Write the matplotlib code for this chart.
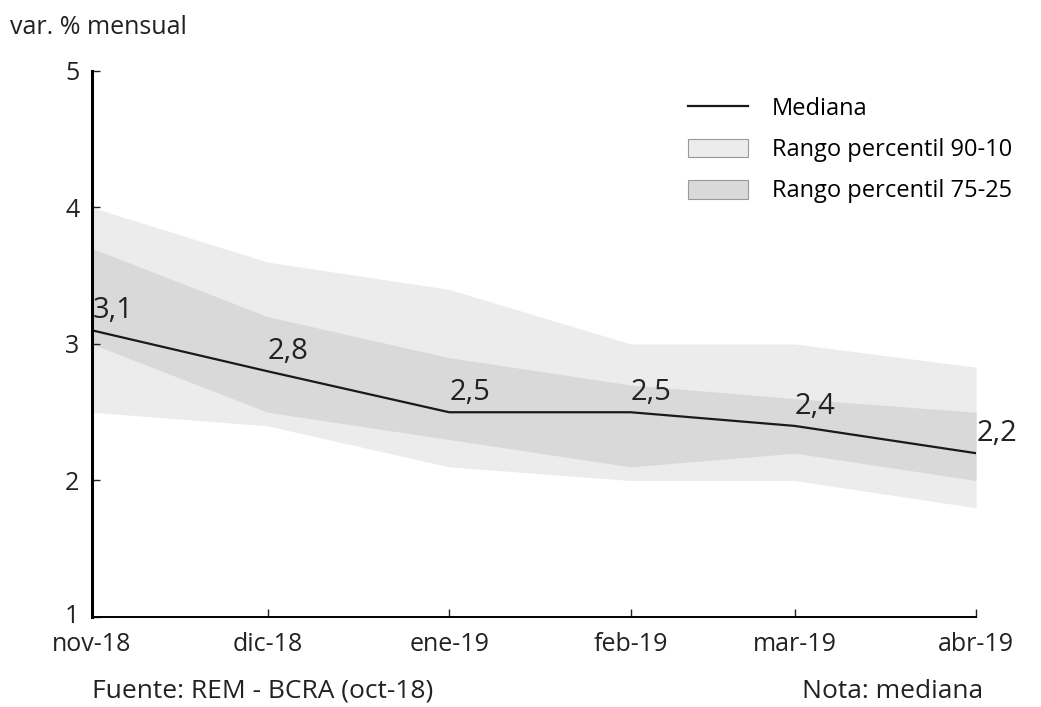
import matplotlib
matplotlib.use("Agg")
import matplotlib.pyplot as plt
import matplotlib.dates as mdates
import matplotlib.transforms as mtransforms
from matplotlib.patches import Patch
from matplotlib.lines import Line2D
from datetime import datetime

plt.rcParams['font.family'] = ['Open Sans', 'DejaVu Sans']

months = ["2018-11-01", "2018-12-01", "2019-01-01", "2019-02-01", "2019-03-01", "2019-04-01"]
tick_labels = ["nov-18", "dic-18", "ene-19", "feb-19", "mar-19", "abr-19"]
mediana = [3.1, 2.8, 2.5, 2.5, 2.4, 2.2]
p90 = [4.0, 3.6, 3.4, 3.0, 3.0, 2.83]
p10 = [2.5, 2.4, 2.1, 2.0, 2.0, 1.8]
p75 = [3.7, 3.2, 2.9, 2.7, 2.6, 2.5]
p25 = [3.0, 2.5, 2.3, 2.1, 2.2, 2.0]
value_labels = ["3,1", "2,8", "2,5", "2,5", "2,4", "2,2"]

dates = [datetime.strptime(m, "%Y-%m-%d") for m in months]
xs = mdates.date2num(dates)

light = "#ececec"
dark = "#d9d9d9"
txt = "#222222"

fig = plt.figure(figsize=(10.41, 7.07), dpi=100)
ax = fig.add_axes([0.0884, 0.1273, 0.8492, 0.7723])

ax.fill_between(xs, p10, p90, color=light, linewidth=0)
ax.fill_between(xs, p25, p75, color=dark, linewidth=0)
ax.plot(xs, mediana, color="#1a1a1a", linewidth=1.6)

for x, v, lab in zip(xs, mediana, value_labels):
    ax.annotate(lab, (x, v), xytext=(15, 14), textcoords="offset points",
                ha="center", va="center", fontsize=21, color=txt)

ax.set_xlim(xs[0], xs[-1])
ax.set_ylim(1, 5)
ax.set_xticks(xs)
ax.set_xticklabels(tick_labels)
ax.set_yticks([1, 2, 3, 4, 5])
ax.set_yticklabels(["1", "2", "3", "4", "5"])

for s in ["top", "right"]:
    ax.spines[s].set_visible(False)
ax.spines["left"].set_linewidth(2.2)
ax.spines["bottom"].set_linewidth(1.4)
ax.tick_params(axis="both", direction="in", length=6, width=1, labelsize=18, colors=txt)
ax.tick_params(axis="x", pad=11)
ax.tick_params(axis="y", pad=9)

# lift the lowest y label a touch so it clears the first month label
lbl1 = ax.yaxis.get_major_ticks()[0].label1
lbl1.set_transform(lbl1.get_transform() +
                   mtransforms.ScaledTranslation(0, 3 / 100, fig.dpi_scale_trans))

handles = [Line2D([0], [0], color="#1a1a1a", linewidth=1.6),
           Patch(facecolor=light, edgecolor="#999999", linewidth=0.8),
           Patch(facecolor=dark, edgecolor="#999999", linewidth=0.8)]
labels = ["Mediana", "Rango percentil 90-10", "Rango percentil 75-25"]
fig.legend(handles, labels, loc="upper left", bbox_to_anchor=(688 / 1041, 1 - 97 / 707),
           frameon=False, fontsize=17, handlelength=2.55, handleheight=0.85,
           handletextpad=1.0, labelspacing=0.73, borderpad=0, borderaxespad=0)

fig.text(10 / 1041, 1 - 28 / 707, "var. % mensual", fontsize=18, va="center", ha="left", color=txt)
fig.text(92 / 1041, 1 - 691 / 707, "Fuente: REM - BCRA (oct-18)", fontsize=19, va="center", ha="left", color=txt)
fig.text(983 / 1041, 1 - 691 / 707, "Nota: mediana", fontsize=19, va="center", ha="right", color=txt)

fig.savefig("out.png", dpi=100)
